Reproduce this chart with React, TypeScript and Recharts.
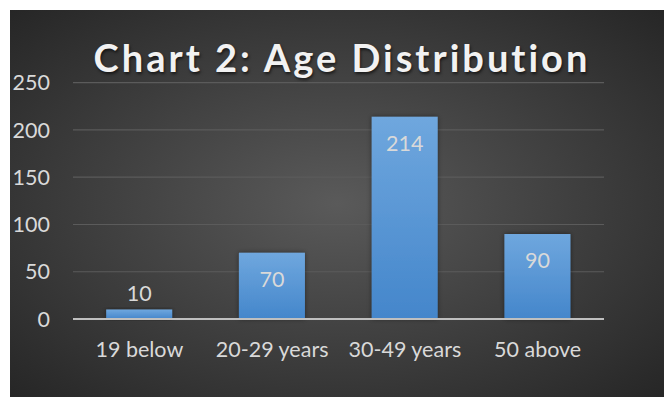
import React from 'react';
import { BarChart, Bar, XAxis, YAxis, CartesianGrid, LabelList } from 'recharts';

const categories = ['19 below', '20-29 years', '30-49 years', '50 above'];
const counts = [10, 70, 214, 90];
const yTicks = [0, 50, 100, 150, 200, 250];
const chartTitle = 'Chart 2: Age Distribution';

const data = categories.map((category, i) => ({ category, count: counts[i] }));

const FONT = 'Lato, "Open Sans", sans-serif';
const LABEL_COLOR = '#d9d9d9';

const renderLabel = (props: any) => {
  const x = Number(props.x);
  const y = Number(props.y);
  const width = Number(props.width);
  const height = Number(props.height);
  const cx = x + width / 2;
  const inside = height > 40;
  const baseline = inside ? y + 34.5 : y - 8.5;
  return (
    <text x={cx} y={baseline} textAnchor="middle" fill={LABEL_COLOR} fontSize={21.5} fontFamily={FONT}>
      {props.value}
    </text>
  );
};

export default function App() {
  return (
    <div
      style={{
        position: 'absolute',
        left: 10,
        top: 10,
        width: 654,
        height: 387,
        background: 'radial-gradient(ellipse at 50% 50%, #5a5a5a 0%, #454545 40%, #262626 100%)',
        overflow: 'hidden',
      }}
    >
      <BarChart
        width={654}
        height={387}
        data={data}
        margin={{ top: 72.7, right: 60, bottom: 0, left: 0 }}
        barCategoryGap="25%"
      >
        <defs>
          <linearGradient id="barFill" x1="0" y1="0" x2="0" y2="1">
            <stop offset="0%" stopColor="#6fa7de" />
            <stop offset="100%" stopColor="#4486cb" />
          </linearGradient>
          <filter id="barShadow" x="-20%" y="-20%" width="140%" height="140%">
            <feDropShadow dx="0" dy="0" stdDeviation="2.5" floodColor="#000" floodOpacity="0.45" />
          </filter>
        </defs>
        <CartesianGrid vertical={false} stroke="#5b5b5b" strokeWidth={1.2} />
        <XAxis
          dataKey="category"
          height={78}
          axisLine={{ stroke: '#bfbfbf', strokeWidth: 2.2 }}
          tickLine={false}
          tickSize={0}
          tickMargin={23}
          tick={{ fill: LABEL_COLOR, fontSize: 21.5, fontFamily: FONT }}
          interval={0}
        />
        <YAxis
          width={63}
          domain={[0, 250]}
          ticks={yTicks}
          axisLine={false}
          tickLine={false}
          tickSize={0}
          tickMargin={23}
          tick={{ fill: LABEL_COLOR, fontSize: 21.5, fontFamily: FONT }}
        />
        <Bar dataKey="count" fill="url(#barFill)" filter="url(#barShadow)" isAnimationActive={false}>
          <LabelList dataKey="count" content={renderLabel} />
        </Bar>
      </BarChart>
      <div
        style={{
          position: 'absolute',
          left: 0,
          top: 28,
          width: 654,
          textAlign: 'center',
          paddingLeft: 10,
          boxSizing: 'border-box',
          fontFamily: FONT,
          fontWeight: 700,
          fontSize: 38,
          lineHeight: '38px',
          letterSpacing: 3,
          color: '#f2f2f2',
          textShadow: '1px 2px 3px rgba(0,0,0,0.6)',
          pointerEvents: 'none',
          whiteSpace: 'nowrap',
        }}
      >
        {chartTitle}
      </div>
    </div>
  );
}
